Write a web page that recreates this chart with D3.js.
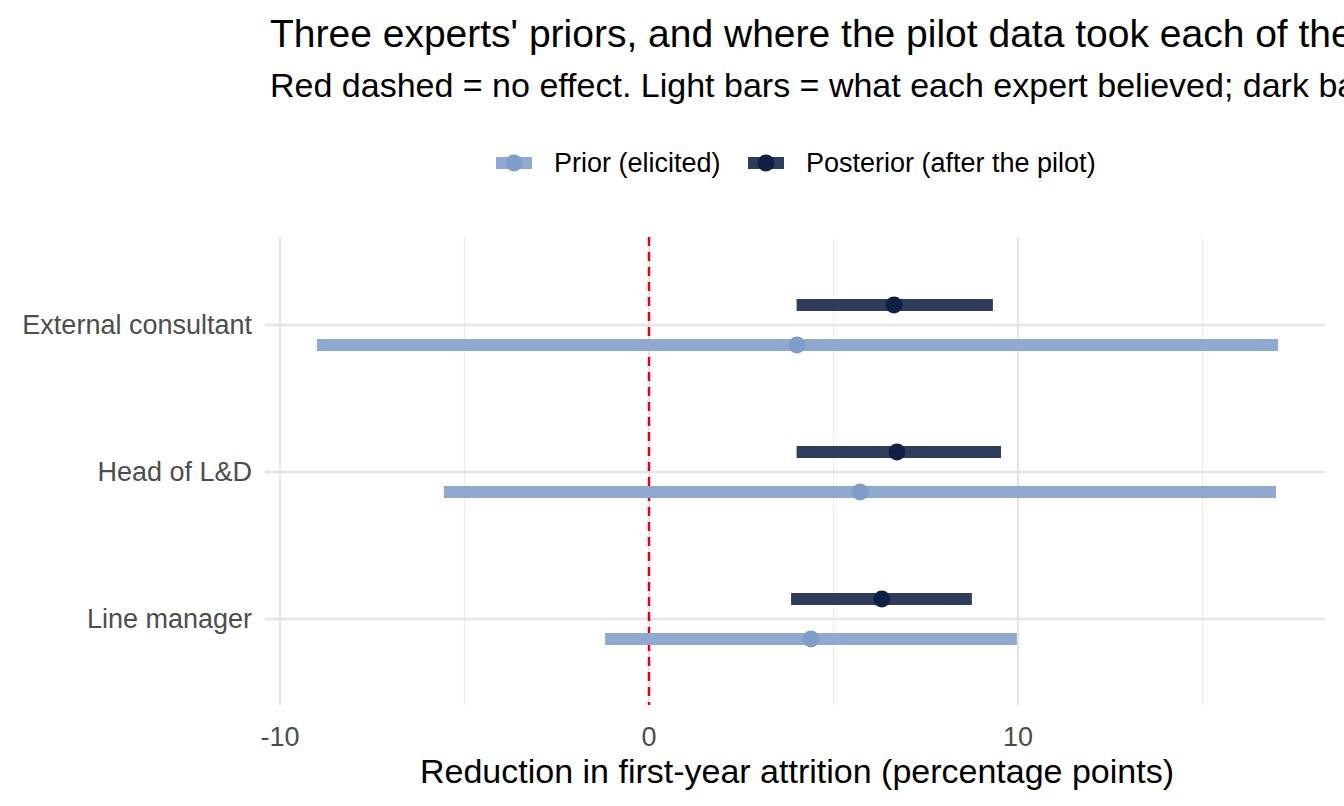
<!DOCTYPE html>
<html><head><meta charset="utf-8">
<script src="https://cdn.jsdelivr.net/npm/d3@7"></script>
<style>body{margin:0;background:#fff;overflow:hidden}text{font-family:Arial,"Liberation Sans",sans-serif}</style>
</head><body><svg id="c" width="1344" height="806"></svg>
<script>
const experts = ["External consultant","Head of L&D","Line manager"];
const priorLo = [-9.0,-5.56,-1.19];
const priorHi = [17.05,16.99,9.97];
const priorMid = [4.01,5.72,4.39];
const postLo = [4.0,4.0,3.85];
const postHi = [9.32,9.54,8.75];
const postMid = [6.64,6.72,6.31];
const xTicks = [-10,0,10];

const svg = d3.select("#c");
const L=265,R=1325,T=237,B=705;
const x = d3.scaleLinear().domain([-10,0]).range([280,649]);
const y = d3.scalePoint().domain(experts).range([325,619]);

const g = svg.append("g");
[-15,-5,5,15].forEach(v=>{ if(x(v)>=L&&x(v)<=R) g.append("line").attr("x1",x(v)).attr("x2",x(v)).attr("y1",T).attr("y2",B).attr("stroke","#ebebeb").attr("stroke-width",1.2);});
xTicks.forEach(v=>g.append("line").attr("x1",x(v)).attr("x2",x(v)).attr("y1",T).attr("y2",B).attr("stroke","#e5e5e5").attr("stroke-width",2.4));
experts.forEach(e=>g.append("line").attr("x1",L).attr("x2",R).attr("y1",y(e)).attr("y2",y(e)).attr("stroke","#e5e5e5").attr("stroke-width",2.4));

g.append("line").attr("x1",x(0)).attr("x2",x(0)).attr("y1",T).attr("y2",B).attr("stroke","#e3001b").attr("stroke-width",2.5).attr("stroke-dasharray","9,6");

experts.forEach((e,i)=>{
  const yp=y(e)+20, yq=y(e)-20;
  g.append("line").attr("x1",x(priorLo[i])).attr("x2",x(priorHi[i])).attr("y1",yp).attr("y2",yp).attr("stroke","#8fa9d0").attr("stroke-width",12);
  g.append("circle").attr("cx",x(priorMid[i])).attr("cy",yp).attr("r",8.5).attr("fill","#7f9dcb");
  g.append("line").attr("x1",x(postLo[i])).attr("x2",x(postHi[i])).attr("y1",yq).attr("y2",yq).attr("stroke","#2f3d5c").attr("stroke-width",12);
  g.append("circle").attr("cx",x(postMid[i])).attr("cy",yq).attr("r",8.5).attr("fill","#0f1f45");
  svg.append("text").attr("x",252).attr("y",y(e)).attr("dy","0.35em").attr("text-anchor","end").attr("font-size",27).attr("fill","#4d4d4d").text(e);
});
xTicks.forEach(v=>svg.append("text").attr("x",x(v)).attr("y",746).attr("text-anchor","middle").attr("font-size",27).attr("fill","#4d4d4d").text(v));
svg.append("text").attr("x",797).attr("y",783).attr("text-anchor","middle").attr("font-size",34).attr("fill","#000").text("Reduction in first-year attrition (percentage points)");

svg.append("text").attr("x",270).attr("y",47).attr("font-size",39).attr("fill","#000").text("Three experts' priors, and where the pilot data took each of them");
svg.append("text").attr("x",270).attr("y",97).attr("font-size",34).attr("fill","#000").text("Red dashed = no effect. Light bars = what each expert believed; dark bars = after the pilot");

const lg=svg.append("g");
lg.append("line").attr("x1",496).attr("x2",532).attr("y1",163).attr("y2",163).attr("stroke","#8fa9d0").attr("stroke-width",12);
lg.append("circle").attr("cx",514).attr("cy",163).attr("r",8.5).attr("fill","#7f9dcb");
lg.append("text").attr("x",554).attr("y",163).attr("dy","0.35em").attr("font-size",27).text("Prior (elicited)");
lg.append("line").attr("x1",748).attr("x2",784).attr("y1",163).attr("y2",163).attr("stroke","#2f3d5c").attr("stroke-width",12);
lg.append("circle").attr("cx",766).attr("cy",163).attr("r",8.5).attr("fill","#0f1f45");
lg.append("text").attr("x",806).attr("y",163).attr("dy","0.35em").attr("font-size",27).text("Posterior (after the pilot)");
</script></body></html>
